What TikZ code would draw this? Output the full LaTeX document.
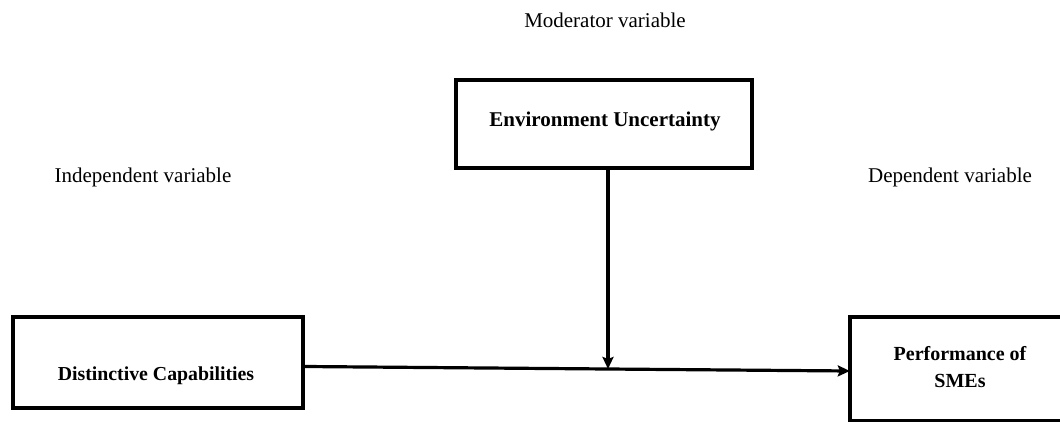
\documentclass[tikz,border=0pt]{standalone}
\usepackage{fontspec}
\setmainfont{Liberation Serif}
\usetikzlibrary{arrows.meta,calc}
\begin{document}
\begin{tikzpicture}[x=1pt,y=1pt,
  box/.style={draw=black,line width=3.4pt,rectangle,inner sep=0pt,fill=none},
  edge3/.style={draw=black,line width=3.4pt},
  lbl/.style={font=\fontsize{21}{27}\selectfont,anchor=base,inner sep=0pt,align=center},
  blbl/.style={lbl,font=\fontsize{21}{27}\selectfont\bfseries},
  conn/.style={line width=3.2pt,-{Stealth[length=12pt,width=11pt,inset=2pt]}}]
\useasboundingbox (0,0) rectangle (1060,421);
\clip (0,0) rectangle (1060,421);
% variable labels
\node[lbl] (mod) at (605,393) {Moderator variable};
\node[lbl] (ind) at (143,238) {Independent variable};
\node[lbl] (dep) at (950,238) {Dependent variable};
% boxes
\node[box,minimum width=290pt,minimum height=91pt] (DC) at (158,58.5) {};
\node[blbl,font=\fontsize{19.8}{27}\selectfont\bfseries] (DCt) at (156,41) {Distinctive Capabilities};
\node[box,minimum width=296pt,minimum height=88pt] (Env) at (604,297) {};
\node[blbl] (Envt) at (605,294) {Environment Uncertainty};
% Performance box: its right side lies beyond the picture's edge
\node[minimum width=280pt,minimum height=103pt,inner sep=0pt] (Perf) at (990,52.5) {};
\draw[edge3] (Perf.north east) -- (Perf.north west) -- (Perf.south west) -- (Perf.south east);
\node[blbl,font=\fontsize{20}{27}\selectfont\bfseries] (Perft) at (960,34) {Performance of\\SMEs};
% connectors
\coordinate (A) at ($(DC.east)+(0,-4)$);
\coordinate (B) at ($(Perf.west)+(0,-2.5)$);
\draw[conn] (A) -- (B);
\coordinate (T) at ($(Env.south)+(4,0)$);
\coordinate (J) at ($(A)!(T)!(B)$);
\draw[conn] (T) -- (T |- J);
\end{tikzpicture}
\end{document}
